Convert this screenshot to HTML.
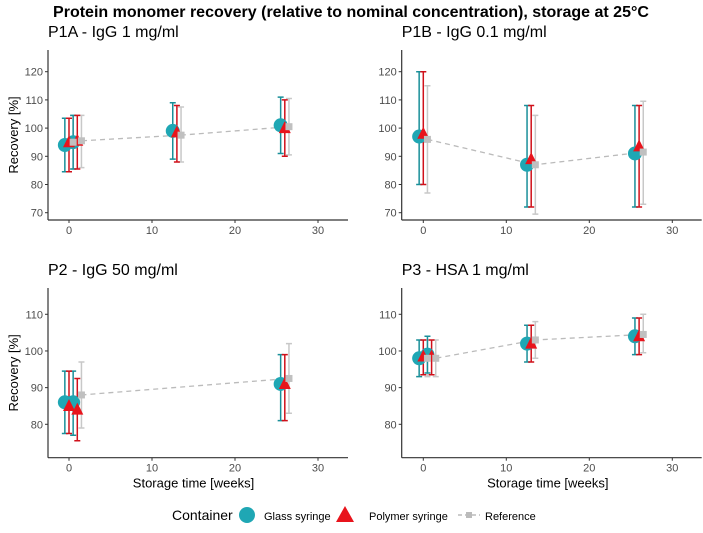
<!DOCTYPE html>
<html><head><meta charset="utf-8"><style>
body{margin:0;background:#fff;font-family:"Liberation Sans",sans-serif}
svg text{font-family:"Liberation Sans",sans-serif}
</style></head><body>
<svg id="c" width="703" height="528" xmlns="http://www.w3.org/2000/svg">
<text x="351" y="17" text-anchor="middle" font-size="16" font-weight="bold" fill="#000">Protein monomer recovery (relative to nominal concentration), storage at 25°C</text>
<g id="legend">
<text x="172" y="520" font-size="14" fill="#000">Container</text>
<circle cx="247" cy="515" r="8" fill="#1fa7b4"/>
<text x="264" y="520" font-size="11" fill="#000">Glass syringe</text>
<polygon points="345,506 354,522 336,522" fill="#e8141c"/>
<text x="369" y="520" font-size="11" fill="#000">Polymer syringe</text>
<line x1="458" y1="515" x2="480" y2="515" stroke="#bbb" stroke-width="1.5" stroke-dasharray="4,3"/>
<rect x="466" y="512" width="6" height="6" fill="#bbb"/>
<text x="485" y="520" font-size="11" fill="#000">Reference</text>
</g>
</svg>
<script>
const panelTitles=["P1A - IgG 1 mg/ml","P1B - IgG 0.1 mg/ml","P2 - IgG 50 mg/ml","P3 - HSA 1 mg/ml"];
const xTicks=[0,10,20,30];
const yTicksTop=[70,80,90,100,110,120];
const yTicksBottom=[80,90,100,110];
// per panel: times, then [value, low, high] per series
const p1aTimes=[0,1,13,26];
const p1aGlass=[[94,84.5,103.5],[95,85.5,104.5],[99,89,109],[101,91,111]];
const p1aPolymer=[[95,84.5,103.5],[95.5,85.5,104.5],[98.5,88,108],[100,90,110]];
const p1aRef=[[95,85.5,104.5],[95.5,86,104.5],[97.5,88,107.5],[100.5,90.5,110.5]];
const p1bTimes=[0,13,26];
const p1bGlass=[[97,80,120],[87,72,108],[91,72,108]];
const p1bPolymer=[[98,80,120],[89,72,108],[93.5,72,108]];
const p1bRef=[[96,77,115],[87,69.5,104.5],[91.5,73,109.5]];
const p2Times=[0,1,26];
const p2Glass=[[86,77.5,94.5],[86,77,94.5],[91,81,99]];
const p2Polymer=[[85,77.5,94.5],[84,75.5,92.5],[91,81,99]];
const p2RefTimes=[1,26];
const p2Ref=[[88,79,97],[92.5,83,102]];
const p3Times=[0,1,13,26];
const p3Glass=[[98,93,103],[99,94,104],[102,97,107],[104,99,109]];
const p3Polymer=[[98.5,93.5,103],[98.5,93.5,103],[102,97,107],[104,99,109]];
const p3Ref=[[98,93,103],[98,93,103],[103,98,108],[104.5,99.5,110]];

const NS="http://www.w3.org/2000/svg";
const svg=document.getElementById('c');
function mk(tag,attrs,parent){const e=document.createElementNS(NS,tag);for(const k in attrs)e.setAttribute(k,attrs[k]);(parent||svg).appendChild(e);return e;}

const panels=[
 {title:panelTitles[0],ax:48,x0:69,top:50,bottom:220,y0v:70,y0p:212.7,ppu:2.82,ticks:yTicksTop,ylab:true,xlab:false,times:p1aTimes,g:p1aGlass,p:p1aPolymer,rt:p1aTimes,r:p1aRef,ty:37},
 {title:panelTitles[1],ax:401.7,x0:423.3,top:50,bottom:220,y0v:70,y0p:212.7,ppu:2.82,ticks:yTicksTop,ylab:false,xlab:false,times:p1bTimes,g:p1bGlass,p:p1bPolymer,rt:p1bTimes,r:p1bRef,ty:37},
 {title:panelTitles[2],ax:48,x0:69,top:288,bottom:457.7,y0v:80,y0p:424.3,ppu:3.667,ticks:yTicksBottom,ylab:true,xlab:true,times:p2Times,g:p2Glass,p:p2Polymer,rt:p2RefTimes,r:p2Ref,ty:275},
 {title:panelTitles[3],ax:401.7,x0:423.3,top:288,bottom:457.7,y0v:80,y0p:424.3,ppu:3.667,ticks:yTicksBottom,ylab:false,xlab:true,times:p3Times,g:p3Glass,p:p3Polymer,rt:p3Times,r:p3Ref,ty:275}
];
const PPW=8.3;
panels.forEach((P,i)=>{
 const g=mk('g',{});
 
 
 const X=t=>P.x0+t*PPW, Y=v=>P.y0p-(v-P.y0v)*P.ppu;
 const tt=mk('text',{x:P.ax,y:P.ty,'font-size':16,fill:'#000'},g);tt.textContent=P.title;
 
 
 const right=P.ax+300;
 const xa=mk('line',{x1:P.ax,y1:P.bottom,x2:right,y2:P.bottom,stroke:'#333','stroke-width':1.2},g);
 
 
 const ya=mk('line',{x1:P.ax,y1:P.top,x2:P.ax,y2:P.bottom,stroke:'#333','stroke-width':1.2},g);
 
 
 xTicks.forEach(t=>{mk('line',{x1:X(t),x2:X(t),y1:P.bottom,y2:P.bottom+3,stroke:'#333'},g);
  const l=mk('text',{x:X(t),y:P.bottom+14,'font-size':11,fill:'#4d4d4d','text-anchor':'middle'},g);l.textContent=t;
  
  });
 P.ticks.forEach(v=>{mk('line',{x1:P.ax-3,x2:P.ax,y1:Y(v),y2:Y(v),stroke:'#333'},g);
  const l=mk('text',{x:P.ax-5,y:Y(v)+4,'font-size':11,fill:'#4d4d4d','text-anchor':'end'},g);l.textContent=v;
  
  });
 if(P.ylab){const cy=(P.top+P.bottom)/2;const l=mk('text',{x:0,y:0,'font-size':13,fill:'#000','text-anchor':'middle',transform:`translate(18,${cy}) rotate(-90)`},g);l.textContent='Recovery [%]';
  
  }
 if(P.xlab){const l=mk('text',{x:X(15),y:P.bottom+30,'font-size':13,fill:'#000','text-anchor':'middle'},g);l.textContent='Storage time [weeks]';
  
  }
 const pts=P.rt.map((t,k)=>X(t+0.5)+','+Y(P.r[k][0])).join(' ');
 const rl=mk('polyline',{points:pts,fill:'none',stroke:'#bbb','stroke-width':1.3,'stroke-dasharray':'5,4'},g);
 
 
 function bars(times,data,off,col,name){times.forEach((t,k)=>{const x=X(t+off),d=data[k];
  const b=mk('path',{d:`M${x},${Y(d[1])}V${Y(d[2])}M${x-3},${Y(d[1])}H${x+3}M${x-3},${Y(d[2])}H${x+3}`,stroke:col,'stroke-width':1.5,fill:'none'},g);
  
  });}
 bars(P.rt,P.r,0.5,'#c8c8c8','reference');
 bars(P.times,P.g,-0.5,'#1a8f99','glass');
 bars(P.times,P.p,0,'#d0101a','polymer');
 P.times.forEach((t,k)=>{const c=mk('circle',{cx:X(t-0.5),cy:Y(P.g[k][0]),r:7,fill:'#1fa7b4'},g);
  
  });
 P.times.forEach((t,k)=>{const x=X(t),y=Y(P.p[k][0]);const p=mk('polygon',{points:`${x},${y-7} ${x+6},${y+5} ${x-6},${y+5}`,fill:'#e8141c'},g);
  
  });
 P.rt.forEach((t,k)=>{const r=mk('rect',{x:X(t+0.5)-3.5,y:Y(P.r[k][0])-3.5,width:7,height:7,fill:'#c0c0c0'},g);
  
  });
});
</script>
</body></html>
